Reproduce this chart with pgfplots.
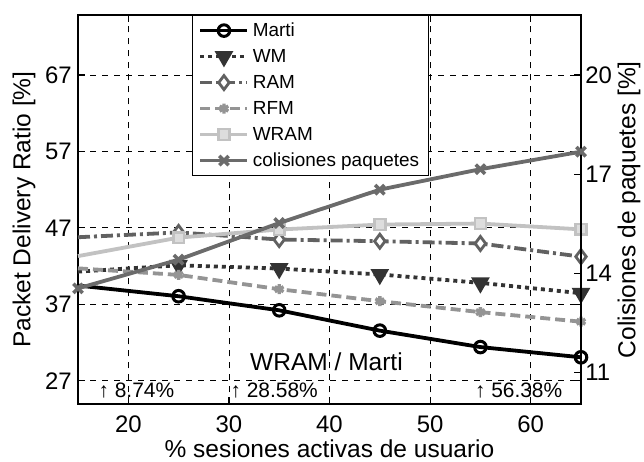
\documentclass[border=0pt]{standalone}
\usepackage{fontspec}
\setmainfont{Liberation Sans}
\usepackage{pgfplots}
\pgfplotsset{compat=1.18}

\definecolor{cWM}{gray}{0.2}
\definecolor{cRAM}{gray}{0.38}
\definecolor{cRFM}{gray}{0.58}
\definecolor{cWRAM}{gray}{0.76}
\definecolor{cCOL}{gray}{0.42}

\pgfplotsset{
  martistyle/.style={black, line width=1.9bp, mark=o, mark size=2.9bp, mark options={solid, line width=1.5bp, fill=white}},
  wmstyle/.style={cWM, line width=1.9bp, dash pattern=on 2bp off 2bp, mark=triangle*, mark size=4.4bp, mark options={solid, rotate=180, line width=1bp, fill=cWM}},
  ramstyle/.style={cRAM, line width=1.9bp, dash pattern=on 6bp off 2bp on 1.5bp off 2bp, mark=diamond*, mark size=3.5bp, mark options={solid, line width=1.4bp, fill=white}},
  rfmstyle/.style={cRFM, line width=1.9bp, dash pattern=on 5bp off 2.5bp, mark=asterisk, mark size=2.5bp, mark options={solid, line width=1.7bp}},
  wramstyle/.style={cWRAM, line width=1.9bp, mark=square*, mark size=2.7bp, mark options={solid, line width=1.3bp, fill=cWRAM!55!white}},
  colstyle/.style={cCOL, line width=1.9bp, mark=x, mark size=3.3bp, mark options={solid, line width=1.8bp}},
}

\begin{document}
\begin{tikzpicture}
\begin{axis}[
  scale only axis, width=251.5bp, height=194.65bp,
  xmin=15, xmax=65, ymin=23.91, ymax=74.85,
  xtick={20,30,40,50,60}, ytick={27,37,47,57,67},
  xtick pos=both, ytick pos=both, xticklabel pos=bottom, yticklabel pos=left,
  tick align=inside, major tick length=3.5bp, tick style={black, line width=0.6bp},
  axis line style={line width=0.8bp},
  grid=major, grid style={black, line width=0.4bp, dash pattern=on 3bp off 3bp},
  /pgf/number format/assume math mode=true,
  ticklabel style={font=\fontsize{12}{14}\selectfont},
  xticklabel style={anchor=center, yshift=-9.85bp},
  yticklabel style={anchor=east, inner sep=0pt, xshift=-3bp},
  xlabel={\% sesiones activas de usuario},
  ylabel={Packet Delivery Ratio [\%]},
  label style={font=\fontsize{12.3}{14}\selectfont},
  xlabel style={at={([yshift=-22.35bp]rel axis cs:0.5,0)}, anchor=center},
  ylabel style={at={([xshift=-27bp]rel axis cs:0,0.5)}, anchor=center},
  clip=false,
]
\addplot[martistyle, mark indices={2,...,6}] coordinates {(15,39.45) (25,38.05) (35,36.21) (45,33.55) (55,31.4) (65,30.06)};
\addplot[wmstyle, mark indices={2,...,6}] coordinates {(15,41.27) (25,42.1) (35,41.67) (45,40.9) (55,39.8) (65,38.44)};
\addplot[ramstyle, mark indices={2,...,6}] coordinates {(15,45.77) (25,46.4) (35,45.47) (45,45.25) (55,44.95) (65,43.23)};
\addplot[rfmstyle, mark indices={2,...,6}] coordinates {(15,41.7) (25,40.84) (35,38.97) (45,37.4) (55,35.97) (65,34.72)};
\addplot[wramstyle, mark indices={2,...,6}] coordinates {(15,43.3) (25,45.72) (35,46.78) (45,47.43) (55,47.56) (65,46.8)};
\node[font=\fontsize{12.3}{14}\selectfont] at (axis cs:39.7,29.5) {WRAM / Marti};
\node[font=\fontsize{10.5}{12}\selectfont] at (axis cs:20.8,25.65) {↑ 8.74\%};
\node[font=\fontsize{10.5}{12}\selectfont] at (axis cs:34.5,25.65) {↑ 28.58\%};
\node[font=\fontsize{10.5}{12}\selectfont] at (axis cs:58.8,25.65) {↑ 56.38\%};
\coordinate (sw) at (rel axis cs:0,0);
\coordinate (ne) at (rel axis cs:1,1);
\end{axis}
\begin{axis}[
  scale only axis, width=251.5bp, height=194.65bp,
  xmin=15, xmax=65, ymin=10.03, ymax=21.82,
  axis x line=none, axis y line*=right,
  ytick={11,14,17,20},
  tick align=inside, major tick length=3.5bp, tick style={black, line width=0.6bp},
  axis line style={line width=0.8bp},
  /pgf/number format/assume math mode=true,
  ticklabel style={font=\fontsize{12}{14}\selectfont},
  yticklabel style={anchor=west, inner sep=0pt, xshift=2bp},
  ylabel={Colisiones de paquetes [\%]},
  label style={font=\fontsize{12.3}{14}\selectfont},
  ylabel style={at={([xshift=24bp]rel axis cs:1,0.5)}, anchor=center},
  clip=false,
  legend image code/.code={\draw[mark repeat=2, mark phase=2, #1] plot coordinates {(0bp,0bp) (11.75bp,0bp) (23.5bp,0bp)};},
  legend cell align=left,
  legend style={at={(0.2266,1)}, anchor=north west, draw=black, line width=0.6bp, fill=white,
    font=\fontsize{9.5}{11}\selectfont, inner xsep=3bp, inner ysep=1bp, row sep=0pt,
    nodes={inner sep=1.75bp, text height=7.5bp, text depth=2bp}},
]
\addlegendimage{martistyle}\addlegendentry{Marti}
\addlegendimage{wmstyle}\addlegendentry{WM}
\addlegendimage{ramstyle}\addlegendentry{RAM}
\addlegendimage{rfmstyle}\addlegendentry{RFM}
\addlegendimage{wramstyle}\addlegendentry{WRAM}
\addplot[colstyle] coordinates {(15,13.54) (25,14.41) (35,15.52) (45,16.53) (55,17.15) (65,17.68)};
\addlegendentry{colisiones paquetes}
\end{axis}
\pgfresetboundingbox
\path[use as bounding box] ([shift={(-39bp,-28.85bp)}]sw) rectangle ([shift={(31.5bp,7.5bp)}]ne);
\end{tikzpicture}
\end{document}
